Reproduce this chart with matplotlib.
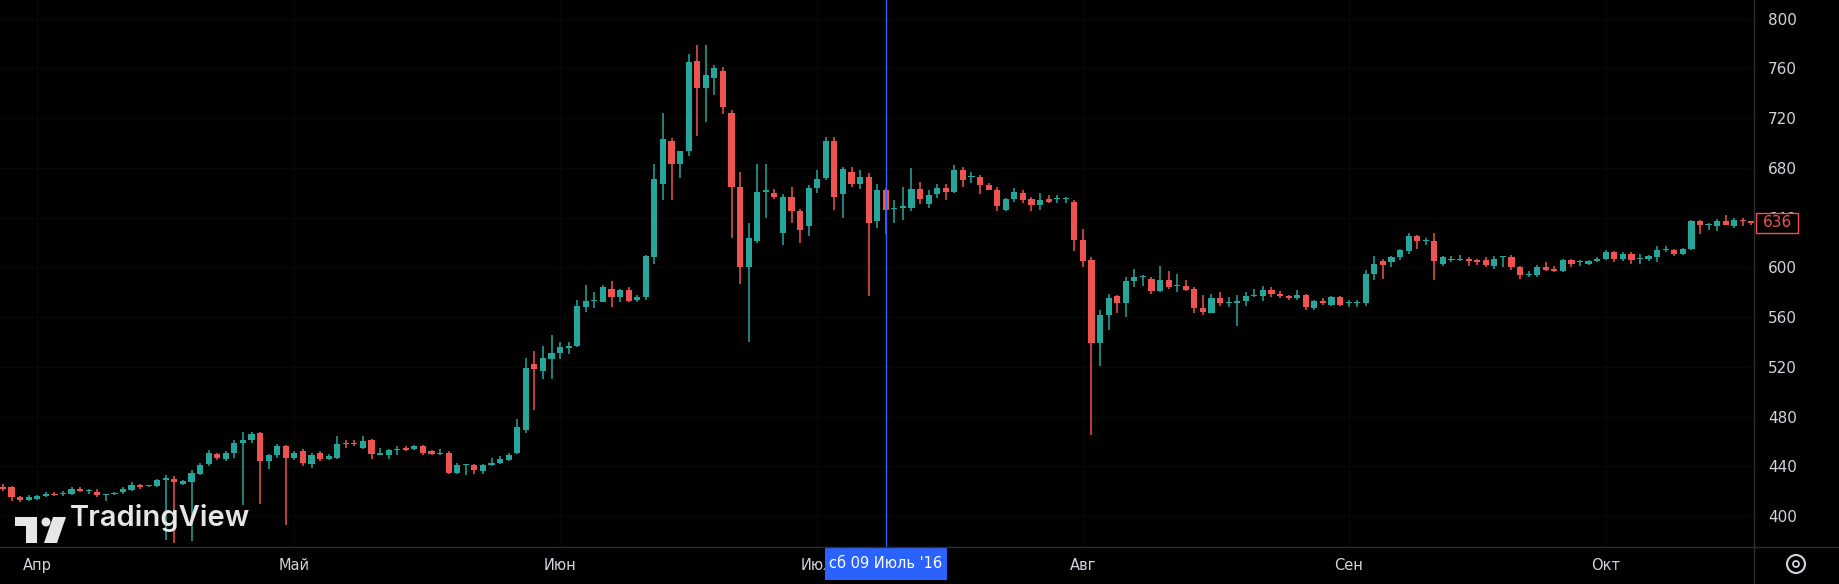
import numpy as np
import pandas as pd
import matplotlib
matplotlib.use("Agg")
import matplotlib.pyplot as plt
from matplotlib.patches import Rectangle, Circle, Polygon

# daily OHLC, 28 Mar 2016 .. 18 Oct 2016
start_date = "2016-03-28"
opens = [423, 423, 415, 413, 414, 416, 418, 418, 418, 422, 420, 419, 417, 418, 419, 421, 425, 424, 424, 429,
         430, 426, 427, 434, 442, 450, 446, 451, 459, 461, 467, 444, 449, 456, 447,
         452, 442, 451, 446, 447, 459, 459, 455, 461, 449, 449, 453, 455, 454, 456, 452, 450, 451, 435, 441,
         441, 436, 441, 443, 445, 451, 469, 522, 517, 526,
         531, 535, 537, 568, 573, 572, 583, 576, 582, 574, 576, 608, 667, 702, 683, 694, 766, 744, 752, 758,
         724, 665, 600, 621, 661, 660, 628, 657, 645, 633,
         664, 672, 702, 659, 677, 667, 673, 637, 662, 647, 648, 648, 663, 651, 659, 664, 661, 678, 673, 673,
         666, 662, 646, 655, 660, 655, 650, 655, 655, 655, 653,
         622, 606, 539, 562, 577, 571, 589, 592, 591, 581, 590, 585, 585, 583, 567, 563, 575, 571, 571, 573,
         577, 577, 582, 579, 577, 575, 578, 567, 573, 570, 576,
         571, 571, 571, 595, 605, 604, 608, 613, 625, 621, 621, 603, 606, 606, 607, 606, 606, 601, 608, 608,
         600, 594, 594, 600, 599, 597, 606, 604, 603, 605,
         607, 612, 607, 611, 607, 607, 608, 614, 614, 611, 615, 637, 634, 633, 637, 633, 638, 637]
highs = [426, 424, 416, 417, 417, 419, 419, 420, 423, 423, 422, 422, 418, 419, 423, 427, 426, 425, 430, 433,
         432, 429, 437, 443, 453, 451, 452, 461, 468, 468, 468, 450, 458, 457, 452,
         454, 451, 452, 450, 464, 461, 461, 464, 462, 455, 454, 456, 456, 457, 457, 453, 454, 452, 443, 442,
         442, 442, 447, 448, 451, 478, 527, 533, 537, 546,
         540, 540, 574, 586, 580, 586, 589, 583, 584, 578, 610, 683, 724, 704, 694, 772, 779, 779, 763, 761,
         727, 677, 636, 683, 683, 663, 659, 665, 647, 666,
         678, 705, 705, 681, 681, 678, 676, 667, 664, 654, 665, 680, 669, 662, 667, 667, 682, 681, 677, 674,
         668, 665, 656, 664, 662, 657, 660, 658, 658, 657, 654,
         631, 608, 566, 579, 578, 592, 599, 594, 592, 601, 597, 595, 590, 584, 578, 579, 580, 576, 578, 580,
         583, 585, 584, 581, 578, 582, 579, 574, 575, 577, 577,
         574, 574, 598, 609, 607, 609, 615, 628, 626, 624, 628, 609, 609, 610, 608, 607, 608, 609, 609, 610,
         601, 597, 602, 604, 601, 607, 607, 606, 606, 608,
         614, 613, 612, 612, 611, 610, 617, 617, 615, 616, 638, 638, 636, 639, 642, 640, 640, 637]
lows = [420, 412, 411, 412, 413, 415, 416, 416, 417, 419, 418, 415, 412, 417, 418, 420, 422, 423, 423, 381,
        378, 425, 380, 433, 440, 445, 444, 447, 409, 459, 410, 438, 447, 393, 445,
        440, 439, 444, 445, 446, 455, 456, 454, 446, 449, 446, 449, 452, 453, 449, 449, 449, 434, 434, 433,
        434, 434, 440, 442, 444, 450, 467, 485, 510, 510,
        526, 530, 536, 564, 567, 572, 568, 572, 572, 572, 574, 603, 654, 654, 672, 690, 706, 717, 739, 723,
        624, 587, 540, 620, 640, 655, 618, 636, 620, 625,
        660, 670, 646, 640, 665, 663, 577, 632, 627, 636, 638, 645, 651, 648, 656, 654, 660, 665, 668, 659,
        662, 645, 645, 653, 652, 645, 646, 652, 652, 652, 613,
        600, 465, 521, 550, 563, 560, 584, 585, 579, 580, 583, 580, 581, 563, 562, 563, 569, 568, 553, 569,
        576, 573, 576, 575, 574, 574, 566, 566, 570, 569, 569,
        568, 568, 569, 590, 591, 600, 606, 611, 615, 618, 590, 601, 604, 605, 601, 602, 600, 599, 600, 598,
        591, 592, 592, 597, 596, 596, 600, 601, 602, 604,
        606, 604, 605, 603, 603, 605, 604, 612, 609, 610, 614, 627, 630, 629, 634, 632, 633, 634]
closes = [422, 415, 413, 415, 416, 418, 417, 418, 422, 420, 420, 417, 417, 418, 422, 425, 423, 424, 429, 431,
          427, 428, 435, 441, 451, 447, 451, 459, 461, 466, 444, 449, 456, 447, 451,
          443, 449, 446, 448, 458, 458, 458, 460, 450, 451, 453, 453, 453, 456, 451, 450, 450, 435, 441, 441,
          437, 441, 443, 446, 449, 472, 519, 518, 527, 531,
          536, 537, 569, 573, 573, 584, 576, 582, 573, 576, 609, 671, 703, 683, 694, 765, 744, 755, 760, 729,
          665, 600, 624, 661, 662, 657, 657, 645, 630, 664,
          671, 702, 657, 679, 667, 673, 636, 662, 646, 648, 649, 663, 655, 658, 664, 661, 678, 670, 673, 666,
          662, 649, 655, 661, 654, 650, 654, 653, 655, 655, 622,
          605, 539, 562, 575, 571, 589, 592, 592, 581, 590, 584, 585, 582, 567, 564, 575, 571, 571, 573, 577,
          577, 582, 579, 577, 575, 578, 568, 573, 571, 576, 570,
          571, 572, 595, 603, 602, 608, 614, 625, 621, 621, 605, 608, 606, 607, 605, 604, 602, 607, 608, 600,
          594, 594, 600, 598, 597, 606, 603, 604, 605, 607,
          612, 607, 611, 606, 607, 609, 614, 614, 611, 615, 637, 634, 634, 637, 634, 638, 637, 636]

month_labels = ["Апр", "Май", "Июн", "Июл", "Авг", "Сен", "Окт"]
month_starts = ["2016-04-01", "2016-05-01", "2016-06-01", "2016-07-01", "2016-08-01", "2016-09-01", "2016-10-01"]
price_ticks = [400, 440, 480, 520, 560, 600, 640, 680, 720, 760, 800]
cursor_date = "2016-07-09"
cursor_text = "сб 09 Июль '16"
last_price = 636

BG = "#000000"
UP = "#26a69a"
DOWN = "#ef5350"
TXT = "#d1d4dc"
W, H = 1839, 584

dates = pd.date_range(start_date, periods=len(closes), freq="D")
x = np.arange(len(closes))
o = np.array(opens, float)
h = np.array(highs, float)
l = np.array(lows, float)
c = np.array(closes, float)

fig = plt.figure(figsize=(W / 100, H / 100), dpi=100, facecolor=BG)
ax = fig.add_axes([0, 37 / H, 1754 / W, 547 / H])
ax.set_facecolor(BG)
ax.set_xlim(-0.35, 204.3)
ax.set_ylim(375.1, 815.1)

# barely visible grid
for p in price_ticks:
    ax.axhline(p, color="#070707", lw=1, zorder=0)
month_idx = [(pd.Timestamp(m) - dates[0]).days for m in month_starts]
for m in month_idx:
    ax.axvline(m, color="#070707", lw=1, zorder=0)

colors = np.where(c >= o, UP, DOWN)
ax.vlines(x, l, h, colors=colors, lw=1.1, zorder=2)
body_bottom = np.minimum(o, c)
body_h = np.maximum(np.abs(c - o), 0.9)
ax.bar(x, body_h, bottom=body_bottom, width=0.72, color=colors, edgecolor="none", zorder=3)

# crosshair
cur_i = (pd.Timestamp(cursor_date) - dates[0]).days
ax.axvline(cur_i, color="#2962ff", lw=1, zorder=4)

for s in ax.spines.values():
    s.set_visible(False)
ax.yaxis.tick_right()
ax.set_yticks(price_ticks)
ax.set_yticklabels([str(p) for p in price_ticks], color=TXT, fontsize=11)
ax.tick_params(axis="y", length=0, pad=10)
ax.set_xticks(month_idx)
ax.set_xticklabels(month_labels, color=TXT, fontsize=10.5)
ax.tick_params(axis="x", length=0, pad=8)

# axis separators
fig.add_artist(plt.Line2D([1754 / W, 1754 / W], [0, 1], color="#2a2e39", lw=1))
fig.add_artist(plt.Line2D([0, 1], [37 / H, 37 / H], color="#2a2e39", lw=1))

# crosshair date label (covers the month label underneath, as in the app)
bx = ax.transData.transform((cur_i, 0))[0] / W
ax.add_patch(Rectangle((bx - 61 / W, 4 / H), 122 / W, 33 / H, transform=fig.transFigure,
                       facecolor="#2962ff", edgecolor="none", zorder=10, clip_on=False))
ax.text(bx, 20 / H, cursor_text, transform=fig.transFigure, color="white", fontsize=10.5,
        ha="center", va="center", zorder=11, clip_on=False)

# last price label (covers the 640 tick label)
py = ax.transData.transform((0, last_price))[1] / H
ax.add_patch(Rectangle((1756 / W, py - 10 / H), 42 / W, 20 / H, transform=fig.transFigure,
                       facecolor=BG, edgecolor=DOWN, lw=1, zorder=10, clip_on=False))
ax.text(1777 / W, py, str(last_price), transform=fig.transFigure, color=DOWN, fontsize=11,
        ha="center", va="center", zorder=11, clip_on=False)

# settings icon (pixel coordinates)
fig.add_artist(Circle((1796, 20), 9, transform=None, facecolor="none", edgecolor=TXT, lw=1.5))
fig.add_artist(Circle((1796, 20), 3, transform=None, facecolor="none", edgecolor=TXT, lw=1.3))

# watermark logo
logo = "#e6e6e6"
lx, ly = 15, 58
fig.patches.append(Rectangle((lx / W, ly / H), 22 / W, 9 / H, transform=fig.transFigure,
                             facecolor=logo, edgecolor="none", zorder=5))
fig.patches.append(Rectangle(((lx + 11) / W, (ly - 17) / H), 11 / W, 20 / H, transform=fig.transFigure,
                             facecolor=logo, edgecolor="none", zorder=5))
fig.add_artist(Circle((lx + 31, ly + 4), 4.5, transform=None, facecolor=logo, edgecolor="none"))
fig.patches.append(Polygon([((lx + 38) / W, (ly + 9) / H), ((lx + 51) / W, (ly + 9) / H),
                            ((lx + 42) / W, (ly - 17) / H), ((lx + 29) / W, (ly - 17) / H)],
                           closed=True, transform=fig.transFigure, facecolor=logo, edgecolor="none", zorder=5))
fig.text(70 / W, 66 / H, "TradingView", color=logo, fontsize=21, fontweight="semibold",
         family="Inter", ha="left", va="center", zorder=6)

fig.savefig("out.png", dpi=100, facecolor=BG)
